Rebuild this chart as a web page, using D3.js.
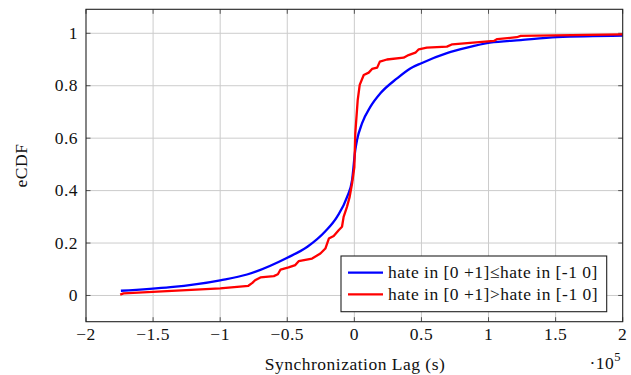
<!DOCTYPE html>
<html><head><meta charset="utf-8">
<script src="https://cdn.jsdelivr.net/npm/d3@7"></script>
<style>body{margin:0;background:#fff}svg{display:block}</style>
</head><body>
<script>
// values in units of 1e5 seconds
const blueX = [-1.74,-1.0,-0.80,-0.50,-0.35,-0.216,-0.129,-0.054,-0.017,0.007,0.02,0.057,0.12,0.194,0.318,0.417,0.50,0.69,0.84,1.01,1.24,1.51,2.0];
const blueY = [0.018,0.058,0.080,0.144,0.186,0.245,0.30,0.376,0.44,0.555,0.593,0.656,0.72,0.771,0.828,0.866,0.886,0.924,0.945,0.964,0.974,0.985,0.991];
const redX = [-1.745,-1.72,-1.0,-0.79,-0.76,-0.74,-0.70,-0.60,-0.57,-0.55,-0.49,-0.44,-0.415,-0.315,-0.253,-0.216,-0.19,-0.154,-0.117,-0.092,-0.08,-0.055,-0.035,-0.017,0,0.007,0.025,0.04,0.07,0.107,0.132,0.17,0.19,0.243,0.367,0.404,0.455,0.48,0.54,0.69,0.73,1.04,1.065,1.21,1.24,2.0];
const redY = [0.003,0.008,0.027,0.037,0.048,0.058,0.069,0.074,0.081,0.099,0.107,0.116,0.131,0.141,0.160,0.179,0.217,0.227,0.249,0.262,0.30,0.338,0.376,0.427,0.49,0.618,0.745,0.803,0.841,0.85,0.864,0.869,0.892,0.90,0.907,0.917,0.926,0.939,0.945,0.949,0.958,0.971,0.978,0.985,0.99,0.996];
const xTicks = [-2,-1.5,-1,-0.5,0,0.5,1,1.5,2];
const yTicks = [0,0.2,0.4,0.6,0.8,1];
const seriesNames = ["hate in [0 +1]\u2264hate in [-1 0]","hate in [0 +1]>hate in [-1 0]"];
const seriesColors = ["#0000ff","#ff0000"];

const W=631,H=375;
const L=86,R=622.7,T=9.3,B=321.7;
const svg=d3.select("body").append("svg").attr("width",W).attr("height",H);
const x=d3.scaleLinear().domain([-2,2]).range([L,R]);
const y=d3.scaleLinear().domain([-0.1,1.0915]).range([B,T]);
const font="Liberation Serif, Times New Roman, serif";
const fs=17.5, ls=0.5;
const fmt=v=>{ if(v===0) return "0"; let s=String(Math.abs(v)); return (v<0?"\u2212":"")+s; };

// grid
svg.append("g").selectAll("line").data(xTicks.slice(1,-1)).join("line")
  .attr("x1",d=>x(d)).attr("x2",d=>x(d)).attr("y1",T).attr("y2",B)
  .attr("stroke","#cccccc").attr("stroke-width",1);
svg.append("g").selectAll("line").data(yTicks).join("line")
  .attr("y1",d=>y(d)).attr("y2",d=>y(d)).attr("x1",L).attr("x2",R)
  .attr("stroke","#cccccc").attr("stroke-width",1);

// ticks inside, all four sides
const tk=4.5, tc="#444";
const tg=svg.append("g").attr("stroke",tc).attr("stroke-width",0.9);
xTicks.forEach(d=>{
  tg.append("line").attr("x1",x(d)).attr("x2",x(d)).attr("y1",B).attr("y2",B-tk);
  tg.append("line").attr("x1",x(d)).attr("x2",x(d)).attr("y1",T).attr("y2",T+tk);
});
yTicks.forEach(d=>{
  tg.append("line").attr("y1",y(d)).attr("y2",y(d)).attr("x1",L).attr("x2",L+tk);
  tg.append("line").attr("y1",y(d)).attr("y2",y(d)).attr("x1",R).attr("x2",R-tk);
});

// lines
const blue=blueX.map((v,i)=>[v,blueY[i]]);
const red=redX.map((v,i)=>[v,redY[i]]);
svg.append("path").datum(blue).attr("d",d3.line().x(d=>x(d[0])).y(d=>y(d[1])).curve(d3.curveMonotoneX)).attr("fill","none")
  .attr("stroke",seriesColors[0]).attr("stroke-width",2.3).attr("stroke-linejoin","round");
svg.append("path").datum(red).attr("d",d3.line().x(d=>x(d[0])).y(d=>y(d[1]))).attr("fill","none")
  .attr("stroke",seriesColors[1]).attr("stroke-width",2.3).attr("stroke-linejoin","round");

// frame
svg.append("rect").attr("x",L).attr("y",T).attr("width",R-L).attr("height",B-T)
  .attr("fill","none").attr("stroke","#222").attr("stroke-width",1.1);

const txt=(sel)=>sel.attr("font-family",font).attr("font-size",fs).attr("letter-spacing",ls).attr("fill","#111");
// tick labels
svg.append("g").selectAll("text").data(xTicks).join("text")
  .attr("x",d=>x(d)).attr("y",340).attr("text-anchor","middle").call(txt).text(fmt);
svg.append("g").selectAll("text").data(yTicks).join("text")
  .attr("x",78).attr("y",d=>y(d)+5.5).attr("text-anchor","end").call(txt).text(fmt);

// axis titles
svg.append("text").attr("x",355).attr("y",369.5).attr("text-anchor","middle").call(txt).text("Synchronization Lag (s)");
svg.append("text").attr("transform","translate(27,165.5) rotate(-90)").attr("text-anchor","middle").call(txt).text("eCDF");
const mult=svg.append("text").attr("x",621).attr("y",369).attr("text-anchor","end").call(txt);
mult.append("tspan").text("\u00b710");
mult.append("tspan").attr("dy",-8).attr("font-size",12.5).text("5");

// legend
const lg=svg.append("g");
lg.append("rect").attr("x",341).attr("y",256).attr("width",265.7).attr("height",55.7)
  .attr("fill","#fff").attr("stroke","#222").attr("stroke-width",1.1);
seriesNames.forEach((n,i)=>{
  const yy=272.7+i*21.6;
  lg.append("line").attr("x1",348).attr("x2",383).attr("y1",yy).attr("y2",yy)
    .attr("stroke",seriesColors[i]).attr("stroke-width",2.3);
  lg.append("text").attr("x",388).attr("y",yy+5.5).call(txt).text(n);
});
</script>
</body></html>
